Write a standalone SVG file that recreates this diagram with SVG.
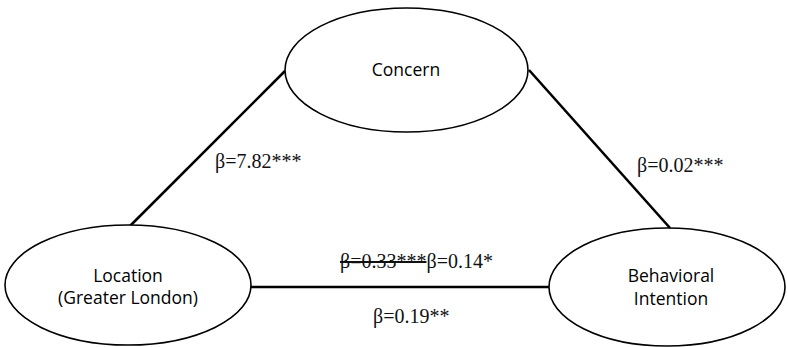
<svg xmlns="http://www.w3.org/2000/svg" width="788" height="347" viewBox="0 0 788 347">
<style>
.node ellipse{fill:#fff;stroke:#000;stroke-width:1.6}
.lbl{font-family:"Open Sans","Liberation Sans",sans-serif;font-size:17.5px;fill:#000;text-anchor:middle}
.beta{font-family:"Liberation Serif","Times New Roman",serif;font-size:20px;fill:#111}
#connectors line{stroke:#000;stroke-width:2.6}
</style>
<rect width="788" height="347" fill="#fff"/>
<g id="connectors">
<line x1="130" y1="226" x2="285" y2="71"/>
<line x1="529" y1="70" x2="670" y2="228"/>
<line x1="250" y1="287" x2="550" y2="287"/>
</g>
<g id="concern" class="node">
<ellipse cx="406.5" cy="70" rx="121.5" ry="62"/>
<text class="lbl" x="406" y="76">Concern</text>
</g>
<g id="location" class="node">
<ellipse cx="128" cy="285" rx="123" ry="60"/>
<text class="lbl" x="128" y="282">Location</text>
<text class="lbl" x="128" y="304">(Greater London)</text>
</g>
<g id="intention" class="node">
<ellipse cx="667" cy="287" rx="118" ry="59"/>
<text class="lbl" x="671" y="282">Behavioral</text>
<text class="lbl" x="671" y="305">Intention</text>
</g>
<g id="labels">
<text class="beta" x="215" y="168">β=7.82***</text>
<text class="beta" x="637" y="172">β=0.02***</text>
<text class="beta" x="340" y="268"><tspan style="text-decoration:line-through">β=0.33***</tspan><tspan>β=0.14*</tspan></text>
<text class="beta" x="373" y="323">β=0.19**</text>
</g>
</svg>
